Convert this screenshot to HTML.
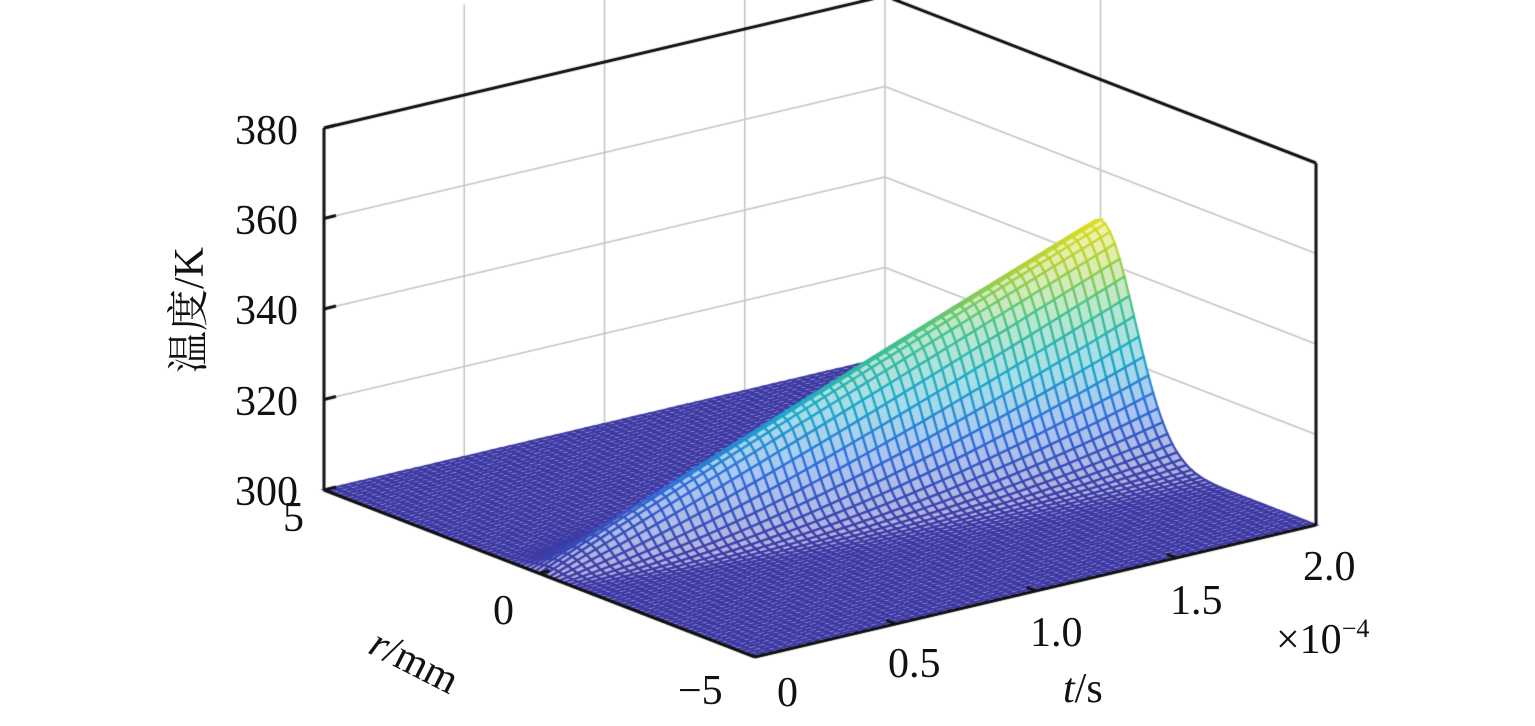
<!DOCTYPE html>
<html><head><meta charset="utf-8"><style>
html,body{margin:0;padding:0;background:#fff;}
#wrap{position:relative;width:1535px;height:726px;overflow:hidden;font-family:"Liberation Serif","Noto Serif CJK SC",serif;color:#111;}
canvas{position:absolute;left:0;top:0;}
.l{position:absolute;font-size:42px;line-height:1;white-space:nowrap;}
.rz{text-align:right;width:80px;left:218px;}
</style></head><body><div id="wrap">
<canvas id="c" width="1535" height="726"></canvas>
<div class="l rz" style="top:110px">380</div>
<div class="l rz" style="top:200px">360</div>
<div class="l rz" style="top:290px">340</div>
<div class="l rz" style="top:381px">320</div>
<div class="l rz" style="top:471px">300</div>
<div class="l" style="left:190px;top:310px;transform:translate(-50%,-50%) rotate(-90deg);">温度/K</div>
<div class="l" style="left:283px;top:497px">5</div>
<div class="l" style="left:493px;top:590px">0</div>
<div class="l" style="left:678px;top:670px">−5</div>
<div class="l" style="left:382px;top:622px;transform:rotate(27deg);transform-origin:left top"><i>r</i>/mm</div>
<div class="l" style="left:777px;top:672px">0</div>
<div class="l" style="left:888px;top:643px">0.5</div>
<div class="l" style="left:1030px;top:612px">1.0</div>
<div class="l" style="left:1170px;top:580px">1.5</div>
<div class="l" style="left:1303px;top:546px">2.0</div>
<div class="l" style="left:1276px;top:616px">×10<sup style="font-size:26px;vertical-align:16px">−4</sup></div>
<div class="l" style="left:1063px;top:668px"><i>t</i>/s</div>
</div>
<script>
const c=document.getElementById('c'),g=c.getContext('2d');
const O={x:324,y:490};const Ut={x:561,y:-132};const Ur={x:-431,y:-167};
const ZS=4.525;
function P(t,r,z){const s=(5-r)/10;return {x:O.x+Ut.x*t-Ur.x*s,y:O.y+Ut.y*t-Ur.y*s-(z-300)*ZS};}
function line(a,b,col,w){g.strokeStyle=col;g.lineWidth=w;g.beginPath();g.moveTo(a.x,a.y);g.lineTo(b.x,b.y);g.stroke();}
const gr='#c4c4c4';
for(const z of [320,340,360,380]){line(P(0,5,z),P(1,5,z),gr,1.5);line(P(1,5,z),P(1,-5,z),gr,1.5);}
for(const t of [0.25,0.5,0.75]){line(P(t,5,300),P(t,5,400),gr,1.5);}
line(P(1,0,300),P(1,0,400),gr,1.5);
line(P(1,5,300),P(1,5,400),gr,1.5);
function T(t,r){const sg=0.3+0.5*t;return 300+49*Math.pow(t,0.95)*Math.exp(-r*r/(2*sg*sg));}
const stops=[[0,[62,58,165]],[0.25,[45,110,220]],[0.45,[30,170,200]],[0.65,[70,195,140]],[0.85,[180,210,50]],[1,[230,225,30]]];
function cm(v){v=Math.max(0,Math.min(1,v));for(let i=1;i<stops.length;i++){if(v<=stops[i][0]){const a=stops[i-1],b=stops[i];const f=(v-a[0])/(b[0]-a[0]);return a[1].map((q,k)=>q+(b[1][k]-q)*f);}}return stops[stops.length-1][1];}
const NT=60,NR=90;
const cells=[];
for(let i=0;i<NT;i++)for(let j=0;j<NR;j++){const t0=i/NT,t1=(i+1)/NT,r0=5-10*j/NR,r1=5-10*(j+1)/NR;cells.push({t0,t1,r0,r1,d:(t0+t1)/2+((r0+r1)/2+5)/10});}
cells.sort((a,b)=>b.d-a.d);
for(const q of cells){const z00=T(q.t0,q.r0),z10=T(q.t1,q.r0),z11=T(q.t1,q.r1),z01=T(q.t0,q.r1);
const p=[P(q.t0,q.r0,z00),P(q.t1,q.r0,z10),P(q.t1,q.r1,z11),P(q.t0,q.r1,z01)];
const zm=(z00+z10+z11+z01)/4;const col=cm((zm-300)/50);
const f=col.map(v=>Math.round(v+(255-v)*0.6));
g.fillStyle=`rgb(${f})`;g.beginPath();g.moveTo(p[0].x,p[0].y);for(let k=1;k<4;k++)g.lineTo(p[k].x,p[k].y);g.closePath();g.fill();
g.strokeStyle=`rgb(${col.map(Math.round)})`;g.lineWidth=2.2;g.stroke();}
const k='#111';
line(P(0,5,300),P(0,5,380),k,3);
line(P(0,5,380),P(1,5,380),k,3);
line(P(1,5,380),P(1,-5,380),k,3);
line(P(1,-5,300),P(1,-5,380),k,3);
line(P(0,5,300),P(0,-5,300),k,3);
line(P(0,-5,300),P(1,-5,300),k,3);
for(const z of [300,320,340,360,380]){const a=P(0,5,z);line(a,{x:a.x+12,y:a.y-3},k,3);}
for(const r of [0]){const a=P(0,r,300);line(a,{x:a.x+10,y:a.y-3},k,3);}
for(const t of [0.25,0.5,0.75]){const a=P(t,-5,300);line(a,{x:a.x-9,y:a.y-4},k,3);}
</script></body></html>
